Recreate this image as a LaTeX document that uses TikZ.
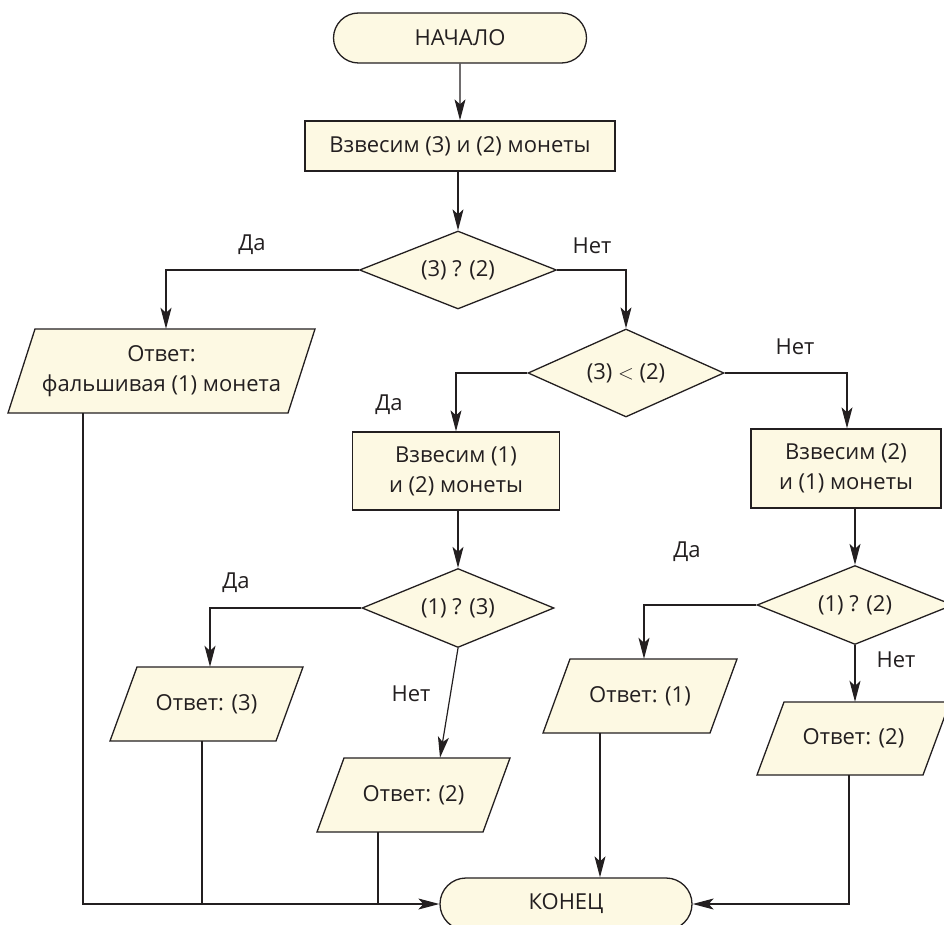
\documentclass[tikz,border=0pt]{standalone}
\usepackage{fontspec}
\setmainfont{Open Sans}
\usetikzlibrary{shapes.geometric,shapes.misc,arrows.meta,calc}
\definecolor{cream}{HTML}{FDF9E3}
\definecolor{ink}{HTML}{231F20}
% parallelogram: name, cx, cy, total width, height, slant, text
\newcommand{\ioshape}[7]{%
  \path[base] ({#2-#4/2},{#3+#5/2}) -- ({#2+#4/2-#6},{#3+#5/2})
     -- ({#2+#4/2},{#3-#5/2}) -- ({#2-#4/2+#6},{#3-#5/2}) -- cycle;
  \node[iotext, minimum width={#4-#6}, minimum height={#5}] (#1) at (#2,#3) {#7};}
\begin{document}
\begin{tikzpicture}[x=1pt,y=-1pt,
  every node/.style={font=\fontsize{22}{30}\selectfont, text=ink},
  base/.style={draw=ink, fill=cream, line width=1.3pt, inner sep=0pt, align=center},
  term/.style={base, rounded rectangle, minimum width=253pt, minimum height=50pt},
  procbox/.style={base, rectangle},
  decision/.style={base, diamond, aspect=2.5},
  iotext/.style={inner sep=0pt, align=center},
  conn/.style={draw=ink, line width=1.2pt},
  arr/.style={conn, -{Stealth[length=21pt,width=11pt,inset=5pt]}},
  lbl/.style={inner sep=0pt}
]
\useasboundingbox (0,0) rectangle (944,925);

% nodes
\node[term] (start) at (460,38) {НАЧАЛО};
\node[procbox, minimum width=310pt, minimum height=50pt] (w32) at (460,146) {Взвесим (3) и (2) монеты};
\node[decision, minimum width=197pt, minimum height=78pt] (d1) at (458,270) {(3) ? (2)};
\ioshape{p1}{161.5}{371}{307}{84}{27}{Ответ:\\фальшивая (1) монета}
\node[decision, minimum width=196pt, minimum height=88pt] (d2) at (626,373) {(3) $<$ (2)};
\node[procbox, minimum width=207pt, minimum height=78pt] (w12) at (456,471) {Взвесим (1)\\и (2) монеты};
\node[procbox, minimum width=190pt, minimum height=79pt] (w21) at (846,468.5) {Взвесим (2)\\и (1) монеты};
\node[decision, minimum width=192pt, minimum height=79pt] (d3) at (458,608) {(1) ? (3)};
\node[decision, minimum width=196pt, minimum height=79pt] (d4) at (855,605) {(1) ? (2)};
\ioshape{p3}{206.5}{704}{193}{74}{27}{Ответ: (3)}
\ioshape{pm2}{413.5}{795}{193}{74}{27}{Ответ: (2)}
\ioshape{pr1}{640}{696}{194}{74}{27}{Ответ: (1)}
\ioshape{pr2}{853.5}{738.5}{193}{73}{27}{Ответ: (2)}
\node[term, minimum width=252pt, minimum height=52pt] (stop) at (566,904) {КОНЕЦ};

% labels
\node[lbl] (l1) at (252,245) {Да};
\node[lbl] (l2) at (592,246) {Нет};
\node[lbl] (l3) at (795,347) {Нет};
\node[lbl] (l4) at (389,405) {Да};
\node[lbl] (l5) at (687,552) {Да};
\node[lbl] (l6) at (236,583) {Да};
\node[lbl] (l7) at (411,694) {Нет};
\node[lbl] (l8) at (896,660) {Нет};

% connectors
\draw[arr] (start) -- (start |- w32.north);
\draw[arr] (d1.north |- w32.south) -- (d1.north);
\draw[arr] (d1.west) -| ([xshift=4.5pt]p1.north);
\draw[arr] (d1.east) -| (d2.north);
\draw[arr] (d2.west) -| (w12.north);
\draw[arr] (d2.east) -| ([xshift=1pt]w21.north);
\draw[arr] (d3.north |- w12.south) -- (d3.north);
\draw[arr] (d4.north |- w21.south) -- (d4.north);
\draw[arr] (d3.west) -| ([xshift=3.5pt]p3.north);
\draw[arr] (d3.south) -- ([xshift=26.5pt]pm2.north);
\draw[arr] (d4.west) -| ([xshift=4pt]pr1.north);
\draw[arr] (d4.south) -- (d4.south |- pr2.north);
\draw[arr] ([xshift=-40pt]pr1.south) -- ([xshift=-40pt]pr1.south |- stop.north);
\draw[arr] ([xshift=-4.5pt]pr2.south) |- (stop.east);
\draw[arr] ([xshift=-78.5pt]p1.south) |- (stop.west);
\draw[conn] ([xshift=-4.5pt]p3.south) -- ([xshift=-4.5pt]p3.south |- stop.west);
\draw[conn] ([xshift=-35.5pt]pm2.south) -- ([xshift=-35.5pt]pm2.south |- stop.west);
\end{tikzpicture}
\end{document}
